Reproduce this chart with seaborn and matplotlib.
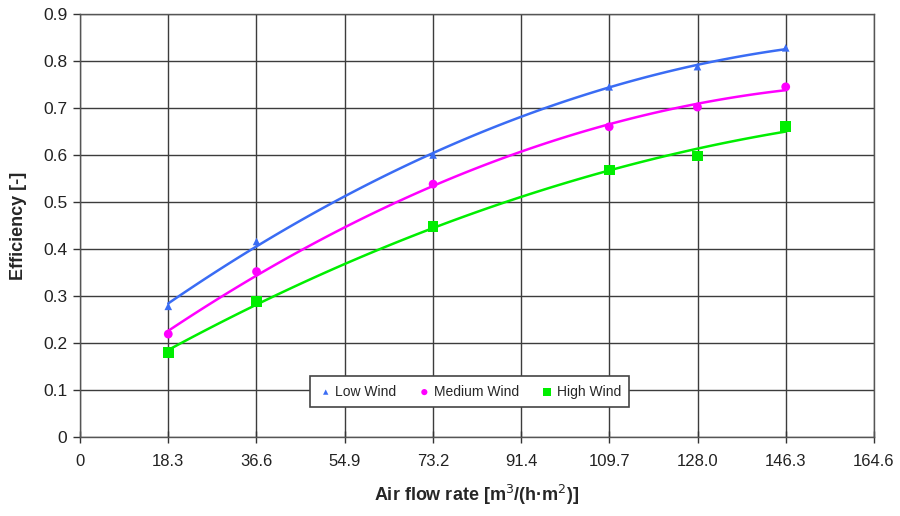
import numpy as np
import pandas as pd
import matplotlib
matplotlib.use('Agg')
import matplotlib.pyplot as plt
from matplotlib import font_manager
import seaborn as sns

# ---- data ----
air_flow = [18.3, 36.6, 73.2, 109.7, 128.0, 146.3]
low_wind = [0.278, 0.416, 0.600, 0.745, 0.788, 0.828]
medium_wind = [0.219, 0.352, 0.538, 0.660, 0.702, 0.745]
high_wind = [0.179, 0.289, 0.448, 0.568, 0.598, 0.660]

series_names = ['Low Wind', 'Medium Wind', 'High Wind']
x_tick_values = [0, 18.29, 36.58, 54.87, 73.16, 91.44, 109.73, 128.02, 146.31, 164.6]
x_tick_labels = ['0', '18.3', '36.6', '54.9', '73.2', '91.4', '109.7', '128.0', '146.3', '164.6']
y_tick_values = [0, 0.1, 0.2, 0.3, 0.4, 0.5, 0.6, 0.7, 0.8, 0.9]

colors = {'Low Wind': '#3a6cf4', 'Medium Wind': '#ff00ff', 'High Wind': '#00ee00'}
markers = {'Low Wind': '^', 'Medium Wind': 'o', 'High Wind': 's'}
sizes = {'Low Wind': 30, 'Medium Wind': 40, 'High Wind': 60}

df = pd.DataFrame({
    'flow': air_flow * 3,
    'eff': low_wind + medium_wind + high_wind,
    'series': [s for s in series_names for _ in air_flow],
})

sns.set_style('white')
plt.rcParams['font.family'] = ['Liberation Sans', 'DejaVu Sans']

# narrow font for the x tick labels if it is there
installed = {f.name for f in font_manager.fontManager.ttflist}
narrow = 'Liberation Sans Narrow' if 'Liberation Sans Narrow' in installed else 'Liberation Sans'

fig = plt.figure(figsize=(9, 5.16), dpi=100)
ax = fig.add_axes([80 / 900, 1 - 437 / 516, 794 / 900, 423 / 516])

handles = []
for name in series_names:
    sub = df[df['series'] == name]
    # Excel-style 2nd order trend line
    sns.regplot(data=sub, x='flow', y='eff', order=2, ci=None, scatter=False,
                truncate=True, ax=ax, line_kws=dict(color=colors[name], lw=1.8, zorder=3))
    h = ax.scatter(sub['flow'], sub['eff'], marker=markers[name], s=sizes[name],
                   color=colors[name], edgecolors='none', zorder=4, label=name)
    handles.append(h)

ax.set_xlim(0, 164.6)
ax.set_ylim(0, 0.9)
ax.set_xticks(x_tick_values)
ax.set_xticklabels(x_tick_labels, family=narrow)
ax.set_yticks(y_tick_values)
ax.set_yticklabels(['0'] + [f'{v:.1f}' for v in y_tick_values[1:]])

ax.grid(True, color='#3c3c3c', lw=1.0, zorder=0)
ax.set_axisbelow(True)
for sp in ax.spines.values():
    sp.set_color('#555555')
    sp.set_linewidth(1.0)

ax.tick_params(axis='y', which='major', direction='out', length=5, width=1,
               color='#333333', labelsize=12.5, pad=4, labelcolor='#222222', left=True)
ax.tick_params(axis='x', which='major', direction='inout', length=8, width=1,
               color='#333333', labelsize=12, pad=8, labelcolor='#222222', bottom=True)

ax.set_xlabel('Air flow rate [m$^3$/(h·m$^2$)]', fontsize=13, fontweight='bold', labelpad=10)
ax.set_ylabel('Efficiency [-]', fontsize=13, fontweight='bold', labelpad=12)

leg = ax.legend(handles=handles, loc='center', bbox_to_anchor=(0.491, 0.107), ncol=3,
                frameon=True, fancybox=False, edgecolor='#444444', framealpha=1,
                fontsize=10, handletextpad=0.2, columnspacing=1.5, markerscale=0.7,
                borderpad=0.6, handlelength=1.0)
leg.get_frame().set_linewidth(1.2)

fig.savefig('out.png', dpi=100)
plt.close(fig)
